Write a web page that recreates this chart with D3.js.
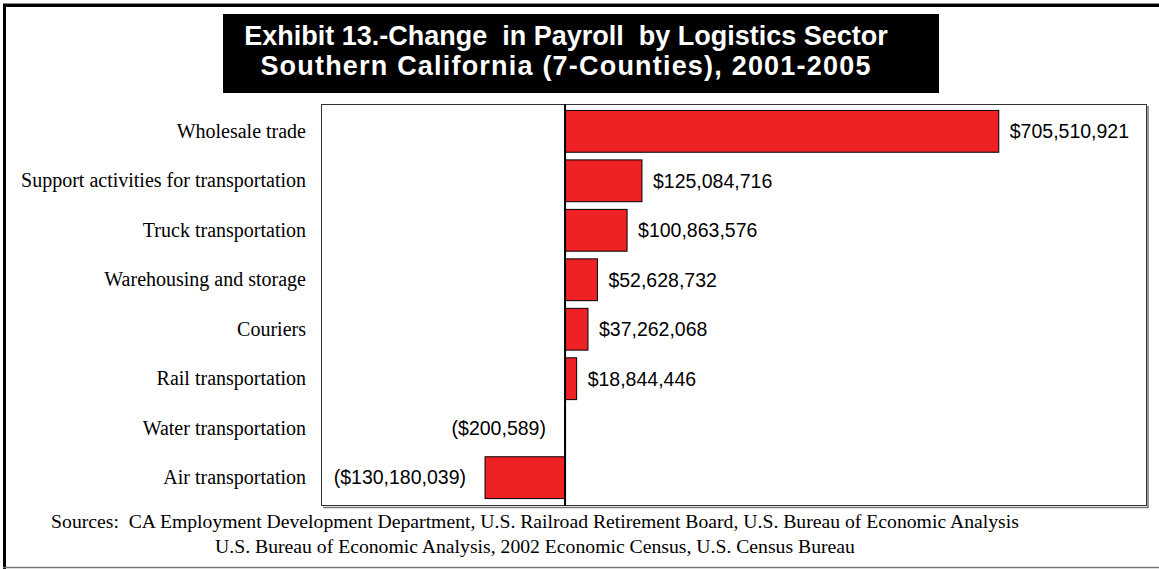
<!DOCTYPE html>
<html>
<head>
<meta charset="utf-8">
<script src="https://cdn.jsdelivr.net/npm/d3@7"></script>
<style>
  html, body { margin: 0; padding: 0; background: #fff; }
  svg { display: block; }
  text { white-space: pre; }
</style>
</head>
<body>
<svg id="chart" width="1159" height="569"></svg>
<script>
// Logistics sectors and their payroll change, 2001-2005 (USD)
const categories = [
  "Wholesale trade",
  "Support activities for transportation",
  "Truck transportation",
  "Warehousing and storage",
  "Couriers",
  "Rail transportation",
  "Water transportation",
  "Air transportation"
];
const payrollChange = [
  705510921,
  125084716,
  100863576,
  52628732,
  37262068,
  18844446,
  -200589,
  -130180039
];
const titleLines = [
  "Exhibit 13.-Change  in Payroll  by Logistics Sector",
  "Southern California (7-Counties), 2001-2005"
];
const sourceLines = [
  "Sources:  CA Employment Development Department, U.S. Railroad Retirement Board, U.S. Bureau of Economic Analysis",
  "U.S. Bureau of Economic Analysis, 2002 Economic Census, U.S. Census Bureau"
];
const valueDomain = [-397e6, 945e6];

const data = categories.map((c, i) => ({ category: c, value: payrollChange[i] }));

const svg = d3.select("#chart");
const W = 1159, H = 569;
const plot = { left: 321, top: 104, right: 1146, bottom: 505 };

// Outer frame
svg.append("rect").attr("x", 0).attr("y", 0).attr("width", W).attr("height", H).attr("fill", "#fff");
svg.append("line").attr("x1", 4.5).attr("x2", 4.5).attr("y1", 4).attr("y2", H)
  .attr("stroke", "#000").attr("stroke-width", 3);
svg.append("line").attr("x1", 3).attr("x2", W).attr("y1", 5.5).attr("y2", 5.5)
  .attr("stroke", "#000").attr("stroke-width", 3);
svg.append("line").attr("x1", 3).attr("x2", W).attr("y1", 3.5).attr("y2", 3.5)
  .attr("stroke", "#888").attr("stroke-width", 1);
svg.append("line").attr("x1", 3).attr("x2", W).attr("y1", 567.5).attr("y2", 567.5)
  .attr("stroke", "#777").attr("stroke-width", 1.5);

// Title block
svg.append("rect").attr("x", 223).attr("y", 14).attr("width", 716).attr("height", 79).attr("fill", "#000");
svg.append("g").selectAll("text").data(titleLines).join("text")
  .attr("x", 566)
  .attr("y", (d, i) => 45 + i * 30)
  .attr("text-anchor", "middle")
  .attr("fill", "#fff")
  .attr("font-family", "Arial, 'Liberation Sans', sans-serif")
  .attr("font-weight", "bold")
  .attr("font-size", 27)
  .attr("letter-spacing", (d, i) => i === 1 ? 1.2 : 0)
  .text(d => d);

// Scales
const x = d3.scaleLinear().domain(valueDomain).range([plot.left, plot.right]);
const y = d3.scaleBand().domain(categories).range([plot.top, plot.bottom])
  .paddingInner(0.155).paddingOuter(0.13);

// Plot frame with shadowed right/bottom edges
svg.append("line").attr("x1", plot.right + 2).attr("x2", plot.right + 2)
  .attr("y1", plot.top + 2).attr("y2", plot.bottom + 3).attr("stroke", "#777").attr("stroke-width", 1.5);
svg.append("line").attr("x1", plot.left + 2).attr("x2", plot.right + 2.5)
  .attr("y1", plot.bottom + 2.5).attr("y2", plot.bottom + 2.5).attr("stroke", "#777").attr("stroke-width", 1.5);
svg.append("rect")
  .attr("x", plot.left + 0.5).attr("y", plot.top + 0.5)
  .attr("width", plot.right - plot.left).attr("height", plot.bottom - plot.top)
  .attr("fill", "#fff").attr("stroke", "#333").attr("stroke-width", 1);

// Bars
svg.append("g").selectAll("rect").data(data).join("rect")
  .attr("x", d => x(Math.min(0, d.value)))
  .attr("y", d => y(d.category))
  .attr("width", d => Math.abs(x(d.value) - x(0)))
  .attr("height", y.bandwidth())
  .attr("fill", "#ee2224")
  .attr("stroke", "#000")
  .attr("stroke-width", 1);

// Zero baseline
svg.append("line")
  .attr("x1", x(0)).attr("x2", x(0))
  .attr("y1", plot.top).attr("y2", plot.bottom + 1)
  .attr("stroke", "#000").attr("stroke-width", 2);

// Category axis labels
const yAxis = d3.axisLeft(y).tickSize(0).tickPadding(0);
const yg = svg.append("g").attr("transform", `translate(${plot.left - 15},0)`).call(yAxis);
yg.select(".domain").remove();
yg.selectAll("text")
  .attr("font-family", "'Times New Roman', 'Liberation Serif', serif")
  .attr("font-size", 20)
  .attr("fill", "#000");

// Value labels
const fmt = d3.format(",");
const money = v => v < 0 ? `($${fmt(-v)})` : `$${fmt(v)}`;
svg.append("g").selectAll("text").data(data).join("text")
  .attr("x", d => d.value >= 0 ? x(d.value) + 11 : x(d.value) - 19)
  .attr("y", d => y(d.category) + y.bandwidth() / 2)
  .attr("dy", "0.35em")
  .attr("text-anchor", d => d.value >= 0 ? "start" : "end")
  .attr("font-family", "Arial, 'Liberation Sans', sans-serif")
  .attr("font-size", 19.5)
  .attr("fill", "#000")
  .text(d => money(d.value));

// Source notes
svg.append("g").selectAll("text").data(sourceLines).join("text")
  .attr("x", 535)
  .attr("y", (d, i) => 528 + i * 25)
  .attr("text-anchor", "middle")
  .attr("font-family", "'Times New Roman', 'Liberation Serif', serif")
  .attr("font-size", 19.7)
  .attr("fill", "#000")
  .text(d => d);
</script>
</body>
</html>
